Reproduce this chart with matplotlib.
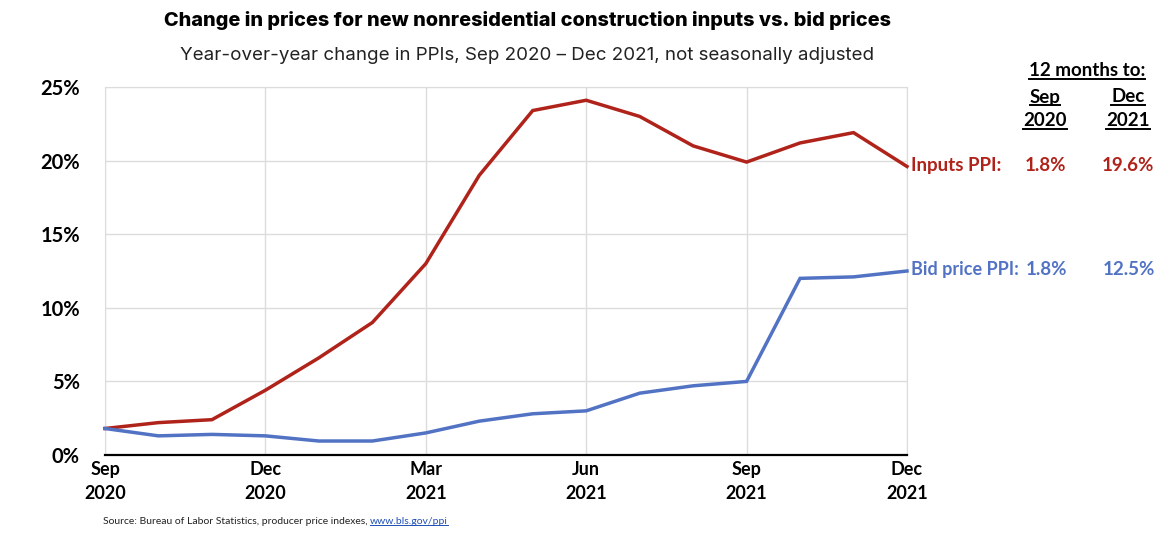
import matplotlib
matplotlib.use("Agg")
import matplotlib.pyplot as plt
from matplotlib.lines import Line2D

months = ["Sep 2020", "Oct 2020", "Nov 2020", "Dec 2020", "Jan 2021", "Feb 2021",
          "Mar 2021", "Apr 2021", "May 2021", "Jun 2021", "Jul 2021", "Aug 2021",
          "Sep 2021", "Oct 2021", "Nov 2021", "Dec 2021"]
inputs_ppi = [1.8, 2.2, 2.4, 4.4, 6.6, 9.0, 13.0, 19.0, 23.4, 24.1, 23.0, 21.0, 19.9, 21.2, 21.9, 19.6]
bid_ppi = [1.8, 1.3, 1.4, 1.3, 0.95, 0.95, 1.5, 2.3, 2.8, 3.0, 4.2, 4.7, 5.0, 12.0, 12.1, 12.5]
tick_idx = [0, 3, 6, 9, 12, 15]
tick_labels = ["Sep\n2020", "Dec\n2020", "Mar\n2021", "Jun\n2021", "Sep\n2021", "Dec\n2021"]
yticks = [0, 5, 10, 15, 20, 25]
summary_cols = [("Sep", "2020"), ("Dec", "2021")]
inputs_summary = ["1.8%", "19.6%"]
bid_summary = ["1.8%", "12.5%"]

RED = "#b0231a"
BLUE = "#5273c4"
LBL = "Lato"

fig = plt.figure(figsize=(11.76, 5.4), dpi=100)
ax = fig.add_axes([105/1176, 1-455/540, (907-105)/1176, (455-87)/540])
x = list(range(len(months)))
ax.plot(x, inputs_ppi, color=RED, lw=2.5, solid_joinstyle="miter", clip_on=False, zorder=3)
ax.plot(x, bid_ppi, color=BLUE, lw=2.5, solid_joinstyle="miter", clip_on=False, zorder=3)
ax.set_xlim(0, 15)
ax.set_ylim(0, 25)
ax.set_yticks(yticks)
ax.set_yticklabels([f"{v}%" for v in yticks], fontfamily=LBL, fontweight="bold", fontsize=14.5)
ax.set_xticks(tick_idx)
ax.set_xticklabels(tick_labels, fontfamily=LBL, fontweight="bold", fontsize=13, linespacing=1.55)
ax.tick_params(length=0, pad=4)
ax.tick_params(axis="y", pad=18)
ax.grid(True, color="#dcdcdc", lw=1)
for s in ["left", "top", "right"]:
    ax.spines[s].set_color("#dcdcdc")
ax.spines["bottom"].set_color("black")
ax.spines["bottom"].set_linewidth(1.6)
ax.spines["bottom"].set_zorder(4)

# titles
fig.text(527/1176, 1-21/540, "Change in prices for new nonresidential construction inputs vs. bid prices",
         ha="center", va="center", fontfamily="Inter", fontweight="heavy", fontsize=14.3)
fig.text(527/1176, 1-55/540, "Year-over-year change in PPIs, Sep 2020 \u2013 Dec 2021, not seasonally adjusted",
         ha="center", va="center", fontfamily="Inter", fontsize=13.5, color="#222222")

# right summary
underlined = []
t = fig.text(1087/1176, 1-71/540, "12 months to:", ha="center", va="center",
             fontfamily=LBL, fontweight="bold", fontsize=13.5)
underlined.append((t, "black"))
col_x = [1045, 1128]
for cx, (m, yr) in zip(col_x, summary_cols):
    t1 = fig.text(cx/1176, 1-97/540, m, ha="center", va="center", fontfamily=LBL, fontweight="bold", fontsize=13.5)
    t2 = fig.text(cx/1176, 1-121/540, yr, ha="center", va="center", fontfamily=LBL, fontweight="bold", fontsize=13.5)
    underlined.append((t1, "black"))
    underlined.append((t2, "black"))

fig.text(911/1176, 1-166/540, "Inputs PPI:", ha="left", va="center", color=RED,
         fontfamily=LBL, fontweight="bold", fontsize=13.5)
fig.text(911/1176, 1-269/540, "Bid price PPI:", ha="left", va="center", color=BLUE,
         fontfamily=LBL, fontweight="bold", fontsize=13)
for cx, a, b in zip(col_x, inputs_summary, bid_summary):
    fig.text(cx/1176, 1-166/540, a, ha="center", va="center", color=RED, fontfamily=LBL, fontweight="bold", fontsize=13.5)
    fig.text((cx+1)/1176, 1-269/540, b, ha="center", va="center", color=BLUE, fontfamily=LBL, fontweight="bold", fontsize=13.5)

# source
src = fig.text(103/1176, 1-521/540, "Source: Bureau of Labor Statistics, producer price indexes, ",
               ha="left", va="center", fontfamily=LBL, fontsize=7.5, color="#222222")
fig.canvas.draw()
r = fig.canvas.get_renderer()
bb = src.get_window_extent(r)
W, H = fig.bbox.width, fig.bbox.height
link = fig.text(bb.x1/W, 1-521/540, "www.bls.gov/ppi", ha="left", va="center",
                fontfamily=LBL, fontsize=7.5, color="#1f4fb5")
underlined.append((link, "#1f4fb5"))
fig.canvas.draw()
for t, c in underlined:
    b = t.get_window_extent(r)
    y = (b.y0 + 1) / H
    lw = 0.7 if t is link else 1.4
    fig.add_artist(Line2D([b.x0/W, b.x1/W], [y, y], color=c, lw=lw, transform=fig.transFigure))

fig.savefig("out.png", dpi=100)
